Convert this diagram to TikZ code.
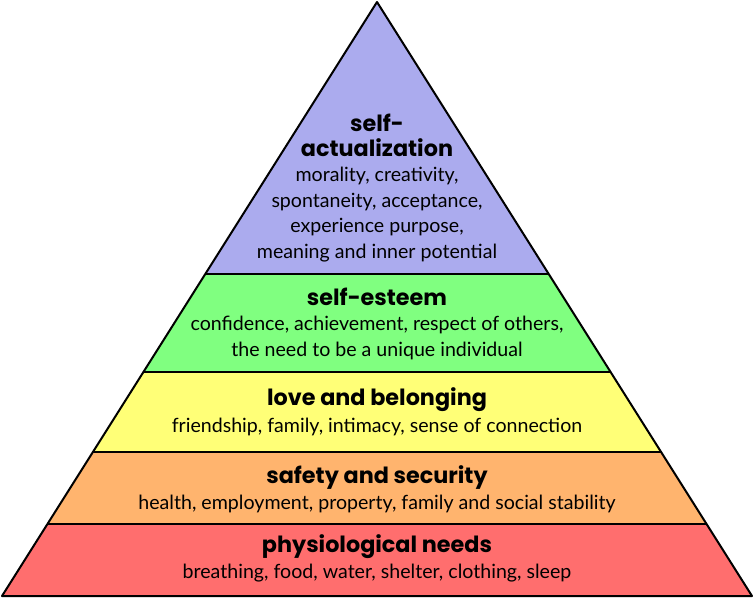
\documentclass[tikz,border=0pt]{standalone}
\usepackage{fontspec}
\setmainfont{Lato}
\newfontfamily\headfont{Poppins}
\usetikzlibrary{calc}
\definecolor{cpurple}{RGB}{171,171,238}
\definecolor{cgreen}{RGB}{128,255,128}
\definecolor{cyellow}{RGB}{255,255,119}
\definecolor{corange}{RGB}{255,180,110}
\definecolor{cred}{RGB}{255,110,110}
\tikzset{
  level/.style={draw=black,line width=2pt,line join=round},
  head/.style={font=\headfont\bfseries\fontsize{22.3}{25}\selectfont,inner sep=0pt,align=center},
  body/.style={font=\fontsize{19.6}{25.5}\selectfont,inner sep=0pt,align=center},
}
\begin{document}
\begin{tikzpicture}[x=1pt,y=-1pt]
\useasboundingbox (0,0) rectangle (754,598);
\coordinate (A) at (377,2);
\coordinate (L) at (2,596);
\coordinate (R) at (752,596);
\coordinate (L1) at ($(A)!0.4579!(L)$);
\coordinate (R1) at ($(A)!0.4579!(R)$);
\coordinate (L2) at ($(A)!0.6229!(L)$);
\coordinate (R2) at ($(A)!0.6229!(R)$);
\coordinate (L3) at ($(A)!0.7576!(L)$);
\coordinate (R3) at ($(A)!0.7576!(R)$);
\coordinate (L4) at ($(A)!0.8788!(L)$);
\coordinate (R4) at ($(A)!0.8788!(R)$);
\fill[cpurple] (A) -- (L1) -- (R1) -- cycle;
\fill[cgreen] (L1) -- (L2) -- (R2) -- (R1) -- cycle;
\fill[cyellow] (L2) -- (L3) -- (R3) -- (R2) -- cycle;
\fill[corange] (L3) -- (L4) -- (R4) -- (R3) -- cycle;
\fill[cred] (L4) -- (L) -- (R) -- (R4) -- cycle;
\draw[level] (A) -- (L) -- (R) -- cycle;
\draw[level] (L1) -- (R1);
\draw[level] (L2) -- (R2);
\draw[level] (L3) -- (R3);
\draw[level] (L4) -- (R4);
% texts
\node[head] (h1a) at (377,123) {self-};
\node[head] (h1b) at (377,148) {actualization};
\node[body,anchor=north] (b1) at (377,167) {morality, creativity,\\spontaneity, acceptance,\\experience purpose,\\meaning and inner potential};
\node[head] (h2) at (377,297) {self-esteem};
\node[body,anchor=north] (b2) at (377,316) {confidence, achievement, respect of others,\\the need to be a unique individual};
\node[head] (h3) at (377,400) {love and belonging};
\node[body] (b3) at (377,427) {friendship, family, intimacy, sense of connection};
\node[head] (h4) at (377,478) {safety and security};
\node[body] (b4) at (377,504) {health, employment, property, family and social stability};
\node[head] (h5) at (377,547) {physiological needs};
\node[body] (b5) at (377,573) {breathing, food, water, shelter, clothing, sleep};
\end{tikzpicture}
\end{document}
